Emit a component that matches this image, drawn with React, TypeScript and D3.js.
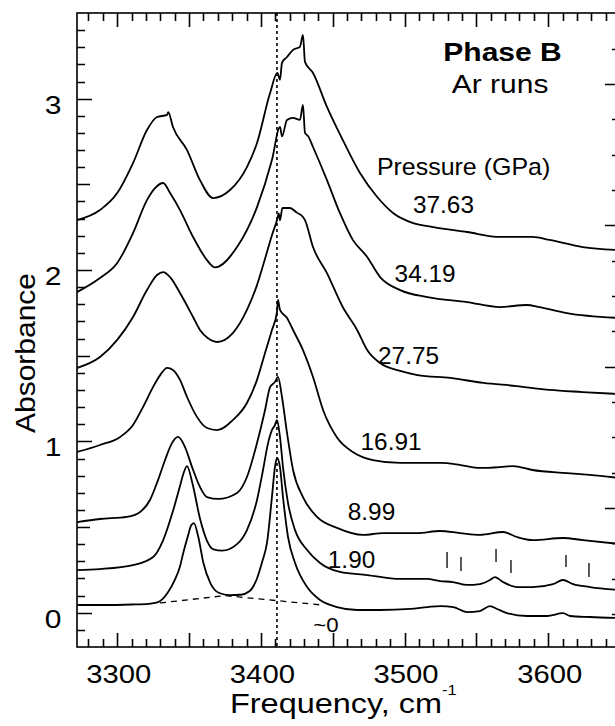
import React from "react";
import * as d3 from "d3";

type Pt = [number, number];

// Spectra: [frequency cm^-1, absorbance]
const specP0: Pt[] = [
  [3272, 0.045], [3290, 0.045], [3310, 0.048], [3322, 0.052], [3328, 0.06], [3335, 0.115], [3340, 0.19],
  [3343.7, 0.27], [3346, 0.35], [3349.3, 0.45], [3351.5, 0.51], [3353.4, 0.523], [3356.5, 0.44], [3360, 0.29],
  [3365, 0.17], [3371, 0.115], [3378, 0.103], [3386, 0.105], [3392, 0.125], [3397.3, 0.2], [3401, 0.3],
  [3404.3, 0.41], [3407.7, 0.675], [3409.8, 0.85], [3411.2, 0.903], [3413.3, 0.85], [3415.4, 0.675],
  [3418.9, 0.442], [3423.8, 0.29], [3432.2, 0.15], [3441.2, 0.074], [3453, 0.033], [3467, 0.016], [3483, 0.016],
  [3504, 0.022], [3516, 0.033], [3525, 0.039], [3534, 0.033], [3543.5, 0.004], [3552.5, 0.01], [3559.5, 0.039],
  [3564.4, 0.022], [3571.3, -0.002], [3585.3, -0.019], [3599.2, -0.019], [3610.3, -0.002], [3615.2, -0.019],
  [3629.1, -0.025], [3650, -0.031],
];
const specP190: Pt[] = [
  [3272, 0.249], [3288, 0.255], [3311, 0.278], [3325, 0.325], [3332, 0.424], [3339, 0.599], [3343.7, 0.74],
  [3346, 0.81], [3348.6, 0.856], [3352.5, 0.75], [3357.6, 0.55], [3362.5, 0.42], [3367, 0.37], [3373, 0.362],
  [3383.4, 0.4], [3390.3, 0.482], [3397.3, 0.658], [3401.5, 0.833], [3405, 0.99], [3407.7, 1.066],
  [3409.8, 1.095], [3411.2, 1.125], [3413.3, 1.026], [3415.4, 0.85], [3418.9, 0.64], [3423.8, 0.482],
  [3432.2, 0.366], [3441.2, 0.29], [3455.1, 0.238], [3473.9, 0.22], [3496.9, 0.197], [3515.6, 0.197],
  [3524.7, 0.185], [3533.7, 0.179], [3543.5, 0.162], [3552.5, 0.167], [3559.5, 0.191], [3563, 0.208],
  [3568.6, 0.179], [3578.3, 0.15], [3589.4, 0.15], [3603.4, 0.167], [3610.3, 0.191], [3617.3, 0.167],
  [3629.1, 0.15], [3650, 0.133],
];
const specP899: Pt[] = [
  [3272, 0.529], [3288, 0.547], [3306.8, 0.559], [3315.9, 0.588], [3322.8, 0.658], [3328.4, 0.774],
  [3333.3, 0.891], [3338.1, 0.99], [3342.3, 1.026], [3347.2, 0.967], [3352.1, 0.85], [3357.6, 0.734],
  [3362.5, 0.675], [3370.2, 0.664], [3383.4, 0.699], [3390.3, 0.792], [3397.3, 0.99], [3402.9, 1.183],
  [3406.4, 1.317], [3409.8, 1.346], [3411.9, 1.376], [3414.7, 1.259], [3418.2, 1.049], [3422.4, 0.833],
  [3429.3, 0.675], [3439.1, 0.559], [3453, 0.495], [3471.1, 0.454], [3485, 0.465], [3508.7, 0.465],
  [3524.7, 0.477], [3538.6, 0.465], [3552.5, 0.454], [3568.6, 0.471], [3578.3, 0.442], [3589.4, 0.424],
  [3610.3, 0.436], [3624.2, 0.424], [3650, 0.401],
];
const specP1691: Pt[] = [
  [3272, 0.938], [3288, 0.979], [3302, 1.026], [3311, 1.096], [3318, 1.201], [3325, 1.318], [3330, 1.388],
  [3334.7, 1.429], [3338.8, 1.417], [3343.7, 1.359], [3348.6, 1.259], [3355.5, 1.143], [3362.5, 1.078],
  [3369.5, 1.066], [3380.6, 1.125], [3390.3, 1.224], [3397.3, 1.359], [3402.9, 1.516], [3407.7, 1.65],
  [3411.2, 1.755], [3411.9, 1.825], [3413.3, 1.767], [3418.2, 1.72], [3422.4, 1.65], [3429.3, 1.533],
  [3436.3, 1.376], [3443.3, 1.183], [3453, 1.023], [3464, 0.938], [3478, 0.891], [3497, 0.874], [3525, 0.874],
  [3539, 0.862], [3552.5, 0.845], [3566.5, 0.85], [3575.5, 0.856], [3589, 0.833], [3613, 0.815], [3629, 0.804],
  [3650, 0.786],
];
const specP2775: Pt[] = [
  [3272, 1.428], [3288, 1.492], [3300, 1.592], [3311, 1.726], [3320.7, 1.883], [3327.7, 1.971], [3332, 1.988],
  [3336.8, 1.959], [3343.7, 1.866], [3352.8, 1.726], [3357.6, 1.65], [3363, 1.603], [3369.5, 1.58],
  [3380.6, 1.633], [3390.3, 1.767], [3397.3, 1.912], [3403, 2.069], [3407.7, 2.203], [3411.2, 2.291],
  [3412.5, 2.33], [3413.3, 2.29], [3415, 2.362], [3420.3, 2.362], [3425, 2.335], [3429.3, 2.31], [3430.7, 2.291],
  [3436.3, 2.134], [3446, 1.982], [3457, 1.784], [3467, 1.65], [3474, 1.533], [3483, 1.457], [3497, 1.411],
  [3509, 1.387], [3532, 1.37], [3555, 1.341], [3578, 1.323], [3601, 1.3], [3624, 1.288], [3650, 1.276],
];
const specP3419: Pt[] = [
  [3272, 1.871], [3288, 1.953], [3300, 2.041], [3311, 2.216], [3320.7, 2.408], [3326.3, 2.478], [3332, 2.508],
  [3336.8, 2.449], [3343.7, 2.35], [3352.8, 2.193], [3362.5, 2.058], [3368, 2.015], [3383.4, 2.134],
  [3397.3, 2.367], [3407.7, 2.642], [3413.3, 2.835], [3414.7, 2.78], [3418.2, 2.876], [3422.4, 2.888],
  [3427.2, 2.876], [3429.3, 2.964], [3430.7, 2.8], [3433, 2.78], [3436.3, 2.718], [3446, 2.525], [3455, 2.333],
  [3464, 2.176], [3474, 2.076], [3483, 1.959], [3497, 1.883], [3516, 1.842], [3543.5, 1.813], [3566.5, 1.784],
  [3585, 1.796], [3594, 1.784], [3613, 1.749], [3650, 1.72],
];
const specP3763: Pt[] = [
  [3272, 2.291], [3288, 2.35], [3300, 2.449], [3311, 2.624], [3320.7, 2.817], [3327.7, 2.893], [3334.7, 2.905],
  [3335.5, 2.922], [3338.8, 2.835], [3348.6, 2.7], [3357.6, 2.525], [3366.7, 2.42], [3378.5, 2.467],
  [3390.3, 2.601], [3397.3, 2.741], [3406.4, 3.033], [3411.5, 3.15], [3413.3, 3.11], [3414.7, 3.209],
  [3418.2, 3.243], [3422.4, 3.285], [3427.2, 3.302], [3429.3, 3.372], [3430.7, 3.215], [3436.3, 3.15],
  [3446, 2.952], [3457, 2.759], [3469, 2.566], [3481, 2.426], [3492, 2.333], [3506, 2.274], [3520, 2.251],
  [3543.5, 2.222], [3566.5, 2.193], [3589, 2.193], [3601, 2.176], [3624, 2.134], [3650, 2.116],
];

const spectra: Pt[][] = [specP0, specP190, specP899, specP1691, specP2775, specP3419, specP3763];
const pressureLabels = ["~0", "1.90", "8.99", "16.91", "27.75", "34.19", "37.63"];
// label anchor points in data units [frequency, absorbance]
const pressureLabelPos: Pt[] = [
  [3445.3, -0.113], [3463.1, 0.261], [3477.0, 0.541], [3490.6, 0.95], [3502.8, 1.451], [3514.3, 1.93], [3527.1, 2.333],
];

const dashedBaseline: Pt[] = [[3329.8, 0.057], [3375, 0.1], [3442.6, 0.045]];
const referenceFreq = 3411.2;

const markerFreqs = [3529.6, 3539.3, 3563.7, 3574.1, 3612.4, 3628.4];
const markerTops = [0.354, 0.325, 0.372, 0.308, 0.337, 0.29];
const markerBottoms = [0.261, 0.243, 0.296, 0.232, 0.267, 0.208];

const xTickLabels = [3300, 3400, 3500, 3600];
const yTickLabels = [0, 1, 2, 3];

const FONT = "'Liberation Sans', Arial, Helvetica, sans-serif";

function Txt(props: {
  x: number; y: number; size: number; sx?: number; weight?: string | number;
  anchor?: "start" | "middle" | "end"; rotate?: number; children: React.ReactNode;
}) {
  const { x, y, size, sx = 1, weight = "normal", anchor = "middle", rotate = 0, children } = props;
  return (
    <text
      transform={`translate(${x},${y}) rotate(${rotate}) scale(${sx},1)`}
      textAnchor={anchor}
      fontSize={size}
      fontWeight={weight}
      fontFamily={FONT}
      fill="#000"
    >
      {children}
    </text>
  );
}

export default function App() {
  const L = 77, R = 620, T = 13, B = 647;
  const x = d3.scaleLinear().domain([3272, 3650]).range([L, R]);
  const y = d3.scaleLinear().domain([-0.2, 3.5]).range([B, T]);
  const yRight = d3.scaleLinear().domain([0, 4.5]).range([649.2, 13.35]);

  const line = d3
    .line<Pt>()
    .x((d) => x(d[0]))
    .y((d) => y(d[1]))
    .curve(d3.curveMonotoneX);
  const straight = d3.line<Pt>().x((d) => x(d[0])).y((d) => y(d[1]));

  const xTicks = d3.range(3280, 3651, 10);
  const yTicks = d3.range(-1, 35, 1).map((v) => v / 10);
  const rTicks = d3.range(1, 18, 1).map((v) => v / 4);

  let tickD = "";
  xTicks.forEach((v) => {
    const major = Math.round(v) % 50 === 0;
    const len = major ? 14 : 8;
    const px = Math.round(x(v)) + 0.5;
    tickD += `M${px},${B}v${-len}M${px},${T}v${len}`;
  });
  yTicks.forEach((v) => {
    const k = Math.round(v * 10);
    const len = k % 10 === 0 ? 15 : k % 5 === 0 ? 13 : 8;
    const py = Math.round(y(v)) + 0.5;
    tickD += `M${L},${py}h${len}`;
  });
  rTicks.forEach((v) => {
    const len = Number.isInteger(v) ? 15 : 8;
    const py = Math.round(yRight(v)) + 0.5;
    tickD += `M${R},${py}h${-len}`;
  });

  return (
    <svg
      width={615}
      height={726}
      style={{ position: "fixed", left: 0, top: 0, display: "block", background: "#fff" }}
    >
      <defs>
        <clipPath id="plot">
          <rect x={L} y={T} width={R - L} height={B - T} />
        </clipPath>
      </defs>
      <rect x={0} y={0} width={615} height={726} fill="#fff" />

      {/* frame */}
      <rect x={L} y={T} width={R - L} height={B - T} fill="none" stroke="#000" strokeWidth={1.6} />
      {/* ticks */}
      <path d={tickD} fill="none" stroke="#000" strokeWidth={1.6} />

      <g clipPath="url(#plot)">
        <line
          x1={x(referenceFreq)} x2={x(referenceFreq)} y1={T} y2={B}
          stroke="#000" strokeWidth={1.6} strokeDasharray="3,3"
        />
        <path d={straight(dashedBaseline) || ""} fill="none" stroke="#000" strokeWidth={1.3} strokeDasharray="6,5" />
        {spectra.map((s, i) => (
          <path key={"s" + i} d={line(s) || ""} fill="none" stroke="#000" strokeWidth={1.8} strokeLinejoin="round" />
        ))}
        {markerFreqs.map((f, i) => (
          <line
            key={"m" + i}
            x1={x(f)} x2={x(f)} y1={y(markerTops[i])} y2={y(markerBottoms[i])}
            stroke="#000" strokeWidth={1.3}
          />
        ))}
      </g>

      {pressureLabels.map((t, i) => (
        <Txt key={"pl" + i} x={x(pressureLabelPos[i][0])} y={y(pressureLabelPos[i][1])} size={i === 0 ? 21 : 23} sx={1.06}>
          {t}
        </Txt>
      ))}
      <Txt x={x(3541.1)} y={y(2.554)} size={24} sx={1.04}>Pressure (GPa)</Txt>
      <Txt x={x(3568.2)} y={y(3.22)} size={25} sx={1.2} weight="bold">Phase B</Txt>
      <Txt x={x(3566.5)} y={y(3.033)} size={25} sx={1.2}>Ar runs</Txt>

      {xTickLabels.map((v) => (
        <Txt key={"xl" + v} x={x(v) + 1.5} y={683} size={25} sx={1.17}>{String(v)}</Txt>
      ))}
      {yTickLabels.map((v) => (
        <Txt key={"yl" + v} x={53} y={y(v) + 15} size={25} sx={1.2}>{String(v)}</Txt>
      ))}

      <text
        transform={`translate(230,713) scale(1.18,1)`}
        textAnchor="start"
        fontSize={27.5}
        fontFamily={FONT}
        fill="#000"
      >
        Frequency, cm
        <tspan fontSize={14} dy={-18}>-1</tspan>
      </text>
      <Txt x={35} y={353} size={27} sx={1.11} rotate={-90}>Absorbance</Txt>
    </svg>
  );
}
